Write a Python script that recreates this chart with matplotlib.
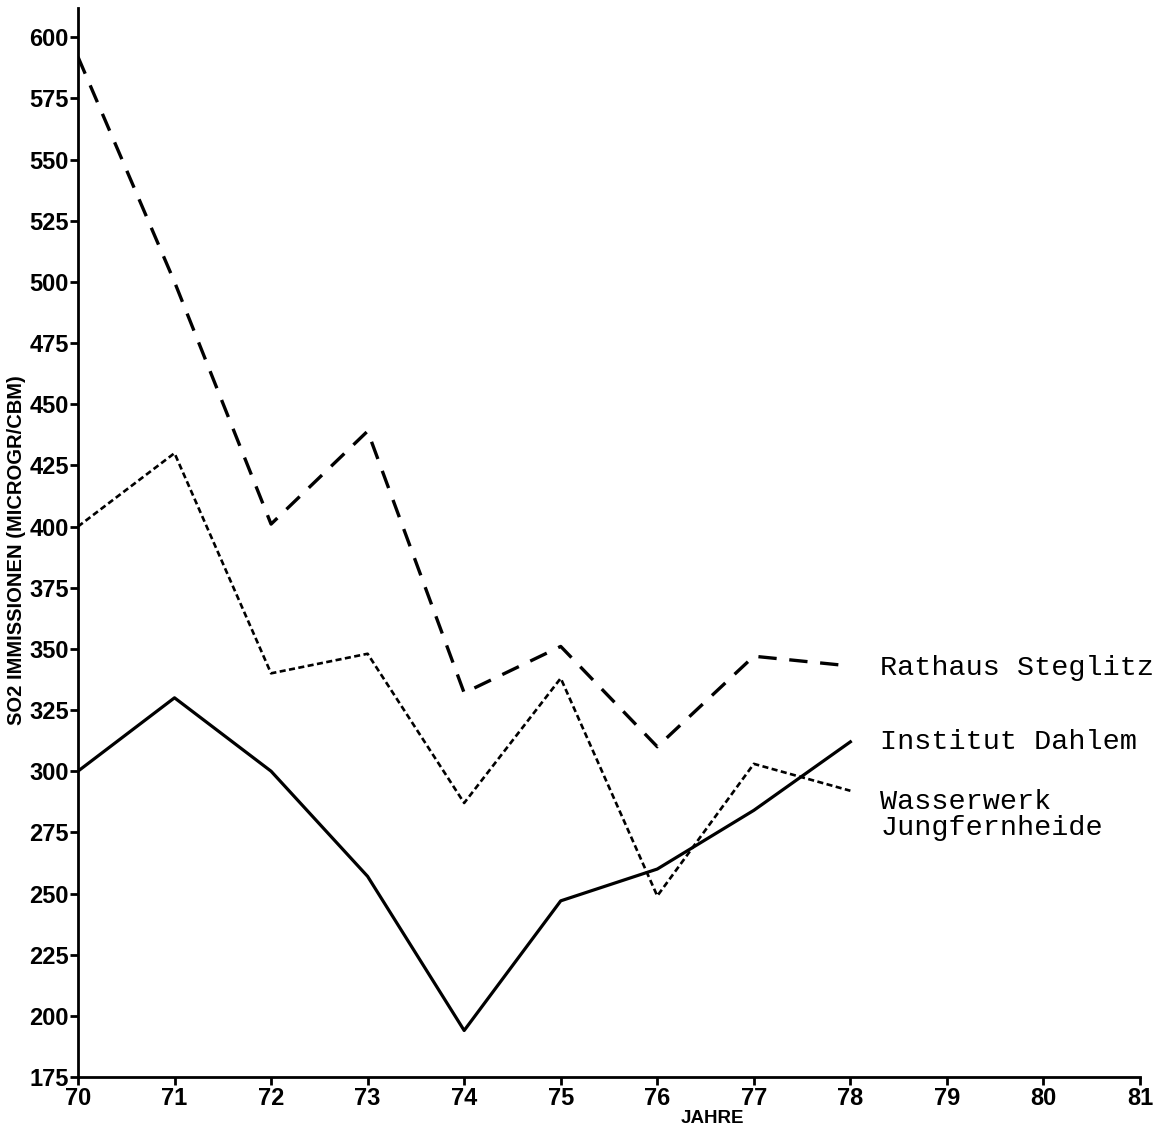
import matplotlib
matplotlib.use("Agg")
import matplotlib.pyplot as plt

years = [70, 71, 72, 73, 74, 75, 76, 77, 78]
rathaus = [592, 500, 401, 439, 332, 351, 310, 347, 343]
wasserwerk = [400, 430, 340, 348, 287, 338, 249, 303, 292]
dahlem = [300, 330, 300, 257, 194, 247, 260, 284, 312]

yticks = list(range(175, 601, 25))
xticks = list(range(70, 82))

fig = plt.figure(figsize=(11.67, 11.32), dpi=100)
ax = fig.add_axes([0.0668, 0.0486, 0.9101, 0.9444])

ax.plot(years, rathaus, color='black', lw=2.4, dashes=(5.5, 3.8))
ax.plot(years, wasserwerk, color='black', lw=1.9, dashes=(2.3, 1.3))
ax.plot(years, dahlem, color='black', lw=2.3)

ax.set_xlim(70, 81)
ax.set_ylim(175, 612)
ax.set_xticks(xticks)
ax.set_yticks(yticks)

tick_font = dict(family='Liberation Sans', weight='bold', size=17)
ax.set_xticklabels([str(x) for x in xticks], fontdict=tick_font)
ax.set_yticklabels([str(y) for y in yticks], fontdict=tick_font)
ax.tick_params(axis='both', direction='out', width=2, colors='black')
ax.tick_params(axis='y', length=6, pad=0.5)
ax.tick_params(axis='x', length=6, pad=1)

for s in ['top', 'right']:
    ax.spines[s].set_visible(False)
for s in ['left', 'bottom']:
    ax.spines[s].set_linewidth(2.0)

ax.set_xlabel('JAHRE', family='Liberation Sans', weight='bold', size=13.5)
ax.xaxis.set_label_coords(0.597, -0.031)
ax.set_ylabel('SO2 IMMISSIONEN (MICROGR/CBM)', family='Liberation Sans',
              weight='bold', size=14.5)
ax.yaxis.set_label_coords(-0.049, 0.493)

lab_font = dict(family='Liberation Mono', size=20.5, color='black')
ax.text(78.31, 342, 'Rathaus Steglitz', va='center', ha='left', **lab_font)
ax.text(78.31, 312, 'Institut Dahlem', va='center', ha='left', **lab_font)
ax.text(78.31, 282, 'Wasserwerk\nJungfernheide', va='center', ha='left',
        linespacing=1.0, **lab_font)

fig.savefig('out.png', dpi=100)
